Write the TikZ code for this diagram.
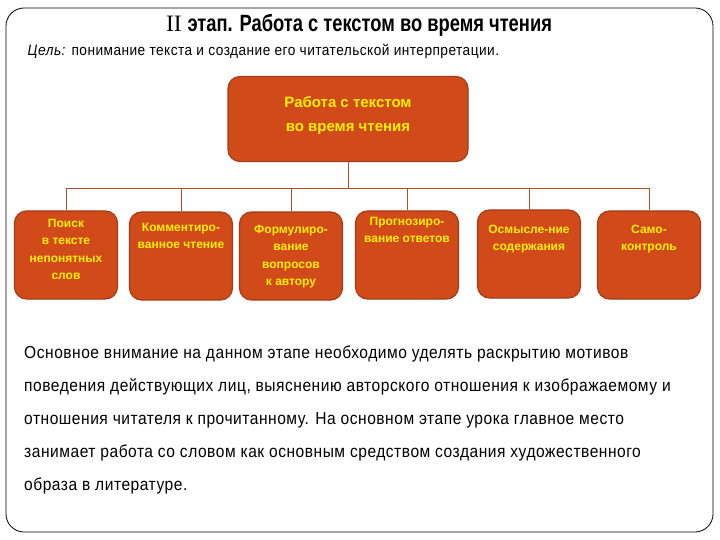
\documentclass[tikz,border=0pt]{standalone}
\usepackage{fontspec}
\setmainfont{Liberation Sans}
\newfontfamily\narrowsf{Liberation Sans}[FakeStretch=0.78]
\newfontfamily\bodysf{Liberation Sans}[FakeStretch=0.9, LetterSpace=3]
\newfontfamily\romanfont{Liberation Serif}
\usetikzlibrary{positioning}

\definecolor{boxred}{RGB}{208,74,26}
\definecolor{boxedge}{RGB}{165,60,22}
\definecolor{linkcol}{RGB}{175,80,45}
\definecolor{boxtext}{RGB}{255,240,0}

\tikzset{
  block/.style={draw=boxedge, line width=1.2pt, fill=boxred, rounded corners=12pt,
    inner sep=0pt, text=boxtext, font=\bfseries\fontsize{12}{17.5}\selectfont},
  kid/.style={block, minimum width=103, minimum height=88},
  link/.style={draw=linkcol, line width=0.8pt},
}

\newcommand{\kidtext}[2]{\parbox[c][84pt][t]{101pt}{\centering\vspace{#1}#2}}

\begin{document}
\begin{tikzpicture}[x=1pt, y=-1pt]
  \useasboundingbox (0,0) rectangle (720,540);
  \draw[black, line width=0.8pt, rounded corners=18pt] (6,8) rectangle (713,532);

  % heading
  \node[font=\fontsize{23.5}{27}\selectfont] (title) at (359,25)
    {\romanfont II \narrowsf\bfseries этап. Работа с текстом во время чтения};
  \node[anchor=west, font=\bodysf\fontsize{15.2}{17}\selectfont] (goal) at (24,51)
    {\textit{Цель:} понимание текста и создание его читательской интерпретации.};

  % tree
  \node[block, minimum width=240, minimum height=85, font=\bfseries\fontsize{15}{24}\selectfont]
    (main) at (348,119) {\parbox[c][81pt][t]{230pt}{\centering\vspace{18pt}Работа с текстом\\во время чтения}};
  \node[kid] (k1) at (66,255)  {\kidtext{6pt}{Поиск\\в тексте\\непонятных\\слов}};
  \node[kid] (k2) at (181,256) {\kidtext{9pt}{Комментиро-\\ванное чтение}};
  \node[kid] (k3) at (291,256) {\kidtext{11pt}{Формулиро-\\вание\\вопросов\\к автору}};
  \node[kid] (k4) at (407,255) {\kidtext{4pt}{Прогнозиро-\\вание ответов}};
  \node[kid] (k5) at (529,254) {\kidtext{13pt}{Осмысле-ние\\содержания}};
  \node[kid] (k6) at (649,255) {\kidtext{12pt}{Само-\\контроль}};

  \draw[link] (main.south) -- ++(0,26) coordinate (bus);
  \foreach \k in {k1,k2,k3,k4,k5,k6} { \draw[link] (bus) -| (\k.north); }

  % body
  \node[anchor=north west, align=left, inner sep=0pt,
    font=\bodysf\fontsize{17.3}{33}\selectfont] (body) at (24,346)
    {Основное внимание на данном этапе необходимо уделять раскрытию мотивов\\
     поведения действующих лиц, выяснению авторского отношения к изображаемому и\\
     отношения читателя к прочитанному. На основном этапе урока главное место\\
     занимает работа со словом как основным средством создания художественного\\
     образа в литературе.};
\end{tikzpicture}
\end{document}
